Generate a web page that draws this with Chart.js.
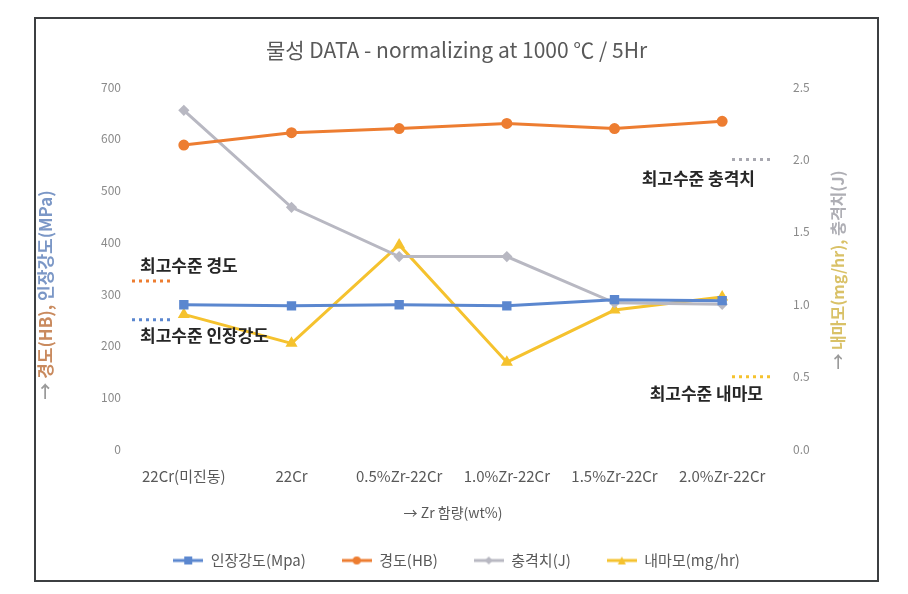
<!DOCTYPE html>
<html>
<head>
<meta charset="utf-8">
<script src="https://cdn.jsdelivr.net/npm/chart.js@4.4.1/dist/chart.umd.min.js"></script>
<style>
  body { margin: 0; background: #fff; }
  #frame { position: absolute; left: 34px; top: 17px; width: 841px; height: 561px; border: 2px solid #3c3f41; }
  canvas { display: block; }
</style>
</head>
<body>
<div id="frame"><canvas id="chart" width="841" height="561"></canvas></div>
<script>
const categories = ['22Cr(미진동)', '22Cr', '0.5%Zr-22Cr', '1.0%Zr-22Cr', '1.5%Zr-22Cr', '2.0%Zr-22Cr'];
const tensile = [279, 277, 279, 277, 289, 287];     // 인장강도 (MPa), left axis
const hardness = [588, 612, 620, 630, 620, 634];    // 경도 (HB), left axis
const impact = [2.34, 1.67, 1.33, 1.33, 1.01, 1.00]; // 충격치 (J), right axis
const wear = [0.93, 0.73, 1.41, 0.60, 0.96, 1.05];   // 내마모 (mg/hr), right axis
const leftTicks = [0, 100, 200, 300, 400, 500, 600, 700];
const rightTicks = [0, 0.5, 1.0, 1.5, 2.0, 2.5];
// best-level reference marks
const bestHardness = 325;
const bestTensile = 250;
const bestImpact = 2.0;
const bestWear = 0.5;

const FONT = "'Noto Sans CJK KR', 'Noto Sans', sans-serif";
const colors = { tensile: '#5b87cf', hardness: '#ed7d31', impact: '#b8b8c2', wear: '#f5c22e' };

function toPoints(arr) {
  return arr.map((v, i) => ({ x: i, y: v }));
}

// legend swatch: short line with the series marker
function swatch(color, style) {
  const c = document.createElement('canvas');
  c.width = 30; c.height = 12;
  const g = c.getContext('2d');
  g.strokeStyle = color; g.lineWidth = 3;
  g.beginPath(); g.moveTo(0, 6); g.lineTo(30, 6); g.stroke();
  g.fillStyle = color;
  if (style === 'rect') g.fillRect(11, 2, 8, 8);
  if (style === 'circle') { g.beginPath(); g.arc(15, 6, 4, 0, Math.PI * 2); g.fill(); }
  if (style === 'rectRot') { g.beginPath(); g.moveTo(15, 2); g.lineTo(19, 6); g.lineTo(15, 10); g.lineTo(11, 6); g.closePath(); g.fill(); }
  if (style === 'triangle') { g.beginPath(); g.moveTo(15, 2); g.lineTo(19, 10); g.lineTo(11, 10); g.closePath(); g.fill(); }
  return c;
}

function drawRotated(ctx, x, y, parts, font) {
  ctx.save();
  ctx.translate(x, y);
  ctx.rotate(-Math.PI / 2);
  ctx.font = font;
  ctx.textBaseline = 'middle';
  ctx.textAlign = 'left';
  const total = parts.reduce((s, p) => s + ctx.measureText(p[0]).width, 0);
  let cx = -total / 2;
  parts.forEach(p => {
    ctx.fillStyle = p[1];
    ctx.fillText(p[0], cx, 0);
    cx += ctx.measureText(p[0]).width;
  });
  ctx.restore();
}

const extras = {
  id: 'extras',
  afterDraw(chart) {
    const ctx = chart.ctx;
    const area = chart.chartArea;
    const yl = chart.scales.yLeft;
    const yr = chart.scales.yRight;

    // axis titles in two colours
    drawRotated(ctx, 10, 276, [['→ ', '#9a9a9a'], ['경도(HB), ', '#c98a5e'], ['인장강도(MPa)', '#7b97c6']], '600 17px ' + FONT);
    drawRotated(ctx, 802, 251, [['→ ', '#9a9a9a'], ['내마모(mg/hr), ', '#d9c167'], ['충격치(J)', '#aeaeb4']], '600 16px ' + FONT);

    // dotted best-level marks
    ctx.save();
    ctx.lineWidth = 3;
    ctx.setLineDash([3, 4]);
    const marks = [
      [yl.getPixelForValue(bestHardness), area.left + 2, colors.hardness],
      [yl.getPixelForValue(bestTensile), area.left + 2, colors.tensile],
      [yr.getPixelForValue(bestImpact), area.right - 44, '#a8a8b0'],
      [yr.getPixelForValue(bestWear), area.right - 44, colors.wear]
    ];
    marks.forEach(m => {
      ctx.strokeStyle = m[2];
      ctx.beginPath(); ctx.moveTo(m[1], m[0]); ctx.lineTo(m[1] + 40, m[0]); ctx.stroke();
    });
    ctx.restore();

    // labels
    ctx.save();
    ctx.font = 'bold 17px ' + FONT;
    ctx.fillStyle = '#262626';
    ctx.textBaseline = 'middle';
    ctx.textAlign = 'left';
    ctx.fillText('최고수준 경도', area.left + 10, marks[0][0] - 15);
    ctx.fillText('최고수준 인장강도', area.left + 10, marks[1][0] + 16);
    ctx.textAlign = 'right';
    ctx.fillText('최고수준 충격치', area.right - 21, marks[2][0] + 19);
    ctx.fillText('최고수준 내마모', area.right - 13, marks[3][0] + 17);
    ctx.restore();
  }
};

new Chart(document.getElementById('chart'), {
  type: 'line',
  data: {
    datasets: [
      { label: '인장강도(Mpa)', data: toPoints(tensile), yAxisID: 'yLeft', borderColor: colors.tensile, backgroundColor: colors.tensile,
        borderWidth: 3, pointStyle: 'rect', pointRadius: 4.5, legendStyle: swatch(colors.tensile, 'rect') },
      { label: '경도(HB)', data: toPoints(hardness), yAxisID: 'yLeft', borderColor: colors.hardness, backgroundColor: colors.hardness,
        borderWidth: 3, pointStyle: 'circle', pointRadius: 4, legendStyle: swatch(colors.hardness, 'circle') },
      { label: '충격치(J)', data: toPoints(impact), yAxisID: 'yRight', borderColor: colors.impact, backgroundColor: colors.impact,
        borderWidth: 3, pointStyle: 'rectRot', pointRadius: 3.5, legendStyle: swatch(colors.impact, 'rectRot') },
      { label: '내마모(mg/hr)', data: toPoints(wear), yAxisID: 'yRight', borderColor: colors.wear, backgroundColor: colors.wear,
        borderWidth: 3, pointStyle: 'triangle', pointRadius: 4, legendStyle: swatch(colors.wear, 'triangle') }
    ]
  },
  options: {
    responsive: false,
    animation: false,
    layout: { padding: { top: 0, bottom: 2, left: 0, right: 0 } },
    plugins: {
      title: {
        display: true,
        text: '물성 DATA - normalizing at 1000 ℃ / 5Hr',
        color: '#595959',
        font: { family: FONT, size: 21, weight: 'normal' },
        padding: { top: 18, bottom: 25 }
      },
      legend: {
        position: 'bottom',
        labels: {
          usePointStyle: true,
          pointStyleWidth: 30,
          padding: 36,
          color: '#595959',
          font: { family: FONT, size: 15 },
          generateLabels(chart) {
            return chart.data.datasets.map((ds, i) => ({
              text: ds.label, pointStyle: ds.legendStyle, datasetIndex: i,
              fillStyle: ds.borderColor, strokeStyle: ds.borderColor, fontColor: '#595959', lineWidth: 0
            }));
          }
        }
      },
      tooltip: { enabled: false }
    },
    scales: {
      x: {
        type: 'linear',
        min: -0.5,
        max: 5.5,
        afterBuildTicks(scale) { scale.ticks = categories.map((c, i) => ({ value: i })); },
        afterFit(scale) { scale.height = 68; },
        grid: { display: false },
        border: { display: false },
        ticks: {
          autoSkip: false, maxRotation: 0, padding: 10,
          color: '#595959', font: { family: FONT, size: 15 },
          callback: v => categories[v]
        },
        title: { display: true, text: '→ Zr 함량(wt%)', color: '#595959', font: { family: FONT, size: 14 }, padding: { top: 0, bottom: -4 } }
      },
      yLeft: {
        position: 'left',
        min: 0, max: 700,
        afterBuildTicks(scale) { scale.ticks = leftTicks.map(v => ({ value: v })); },
        afterFit(scale) { scale.width = 94; },
        grid: { display: false },
        border: { display: false },
        ticks: { padding: 1, color: '#8a8a8a', font: { family: FONT, size: 12 } }
      },
      yRight: {
        position: 'right',
        min: 0, max: 2.5,
        afterBuildTicks(scale) { scale.ticks = rightTicks.map(v => ({ value: v })); },
        afterFit(scale) { scale.width = 101; },
        grid: { display: false },
        border: { display: false },
        ticks: { padding: 9, color: '#8a8a8a', font: { family: FONT, size: 12 }, callback: v => v.toFixed(1) }
      }
    }
  },
  plugins: [extras]
});
</script>
</body>
</html>
